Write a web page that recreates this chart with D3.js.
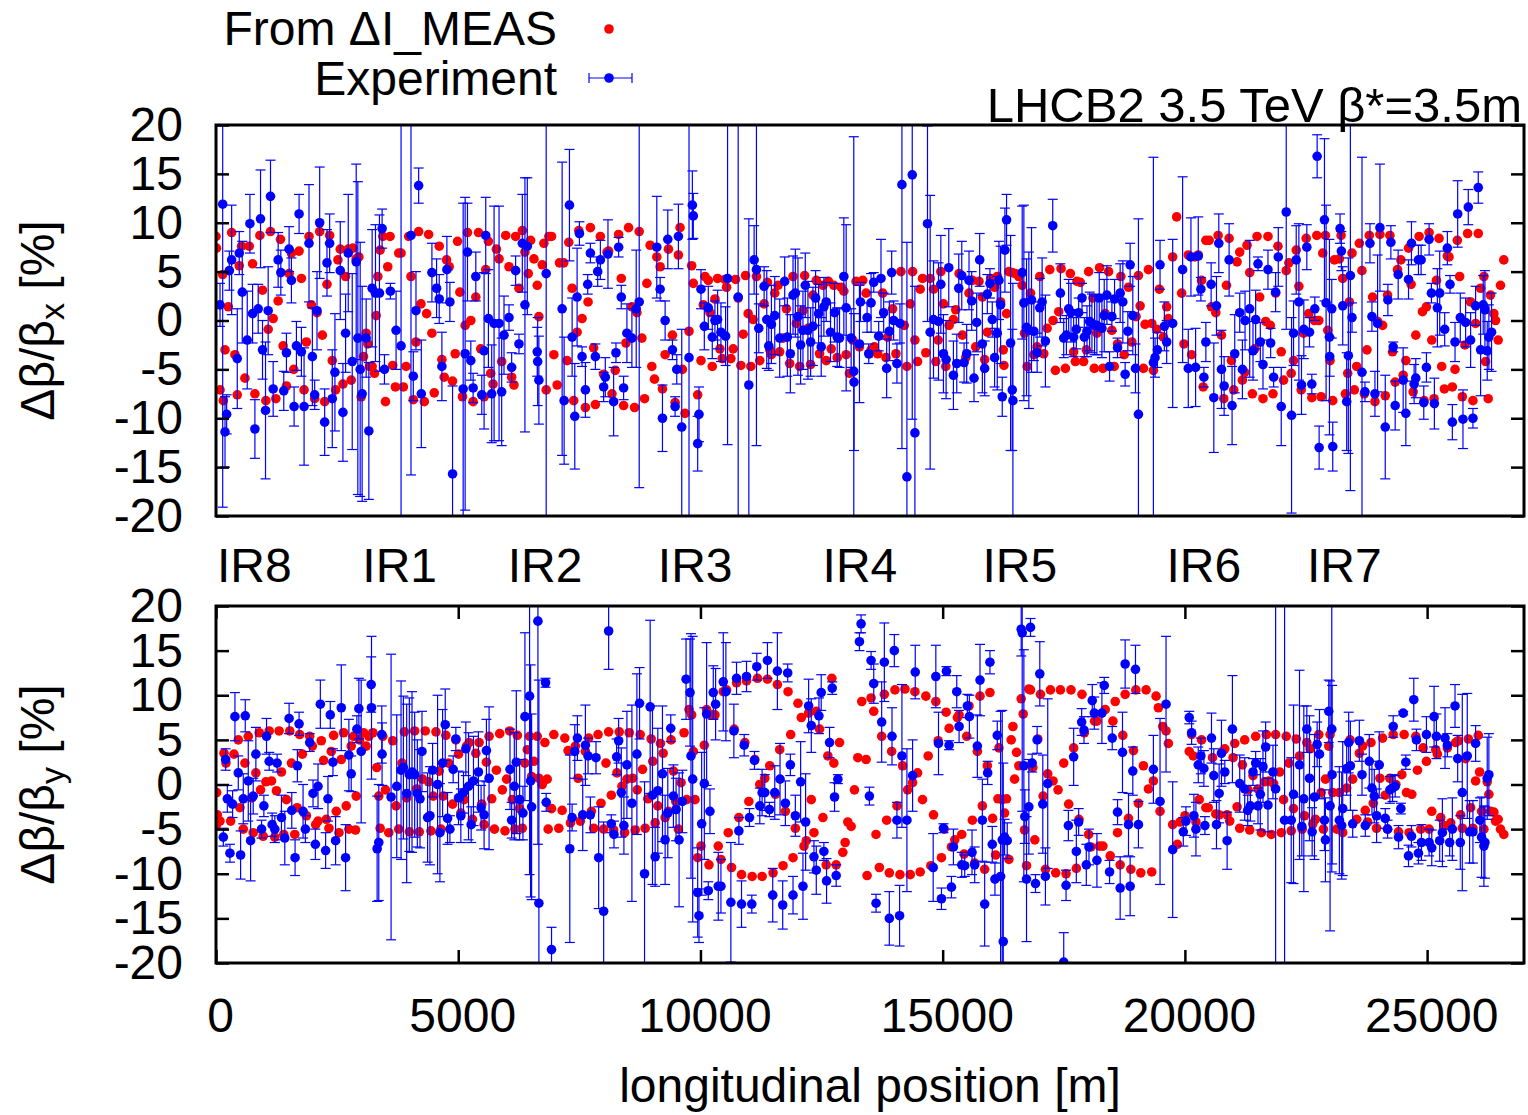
<!DOCTYPE html>
<html>
<head>
<meta charset="utf-8">
<script src="https://cdn.jsdelivr.net/npm/d3@7"></script>
<style>
body { margin: 0; background: #fff; }
text { font-family: "Liberation Sans", Arial, Helvetica, sans-serif; }
</style>
</head>
<body>
<div id="chart"></div>
<script>
var xTicks = [0, 5000, 10000, 15000, 20000, 25000];
var yTicks = [-20, -15, -10, -5, 0, 5, 10, 15, 20];
var irNames = ["IR8", "IR1", "IR2", "IR3", "IR4", "IR5", "IR6", "IR7"];
var irPos = [0, 3000, 6000, 9100, 12500, 15800, 19600, 22500];

// horizontal plane, model from ΔI_MEAS: [s (m), Δβ/β (%)]
var modelX = [[0,8.6],[10,7.4],[83,-7.1],[138,4.7],[151,-8.2],[186,-3.0],[254,1.4],[323,9.0],[391,-3.5],[439,-7.6],[480,5.6],[528,7.6],[597,-5.9],[686,7.6],[755,5.8],[803,-7.5],[906,8.7],[960,3.1],[1029,-8.2],[1077,-0.9],[1125,9.1],[1180,0.2],[1235,-8.0],[1283,2.0],[1331,8.3],[1386,-2.6],[1454,-6.7],[1509,4.8],[1557,6.9],[1605,-5.0],[1715,7.1],[1763,4.3],[1818,-7.1],[1866,-2.2],[1920,8.6],[1968,1.6],[2037,-8.0],[2085,0.8],[2140,9.1],[2195,-1.5],[2243,-8.3],[2291,3.7],[2346,8.7],[2400,-4.1],[2469,-7.1],[2517,6.2],[2565,7.3],[2620,-6.5],[2675,4.5],[2730,7.3],[2791,-6.1],[2826,7.4],[2894,6.3],[2949,6.5],[2997,-7.8],[3045,-3.7],[3100,-1.3],[3134,-2.4],[3168,-4.7],[3223,-4.7],[3271,-5.4],[3306,0.5],[3340,4.5],[3388,7.2],[3443,8.6],[3498,-8.3],[3545,5.5],[3593,8.6],[3648,-4.6],[3703,-6.8],[3772,6.9],[3820,6.9],[3868,-6.8],[3923,-4.7],[3978,8.6],[4025,4.5],[4073,-8.1],[4128,-2.2],[4183,9.1],[4231,1.7],[4300,-8.3],[4348,0.7],[4389,8.8],[4457,-1.3],[4505,-7.4],[4608,7.6],[4663,-4.0],[4711,-5.8],[4759,6.2],[4814,5.5],[4883,-6.2],[4938,-3.4],[4986,8.1],[5034,2.9],[5088,-7.8],[5143,-0.5],[5191,9.0],[5260,0.0],[5308,-8.3],[5363,2.4],[5418,9.0],[5465,-2.9],[5534,-7.8],[5568,5.2],[5623,8.1],[5671,-5.4],[5719,-6.5],[5788,7.3],[5843,6.3],[5897,-4.2],[5980,8.7],[6048,5.5],[6103,-5.8],[6151,-6.6],[6185,8.6],[6254,3.3],[6323,9.2],[6377,7.0],[6446,4.8],[6494,8.2],[6563,6.3],[6631,3.6],[6665,0.4],[6734,5.7],[6768,7.9],[6816,-7.1],[6871,8.6],
[6926,8.6],[6974,-3.5],[7042,-6.6],[7090,5.9],[7179,5.9],[7248,-4.1],[7282,8.0],[7351,3.3],[7385,-8.2],[7454,-1.2],[7488,9.2],[7556,0.2],[7625,-8.9],[7680,1.9],[7728,9.5],[7796,-2.8],[7831,-8.6],[7934,8.6],[8002,-5.5],[8071,7.0],[8105,7.1],[8174,-7.5],[8242,-5.1],[8311,8.8],[8366,4.3],[8414,-8.7],[8462,-2.3],[8516,9.5],[8585,1.4],[8640,-8.9],[8688,0.8],[8736,9.1],[8791,-1.8],[8846,-8.0],[8894,3.8],[8962,7.7],[8996,-4.7],[9051,-6.0],[9099,6.5],[9168,5.5],[9216,-7.0],[9271,-3.5],[9339,7.3],[9422,-1.5],[9477,-8.4],[9545,6.7],[9579,9.5],[9627,-5.0],[9682,-9.5],[9764,-1.1],[9819,5.6],[9853,3.8],[9943,-7.6],[10011,-4.1],[10059,1.6],[10094,4.5],[10162,4.1],[10196,0.8],[10244,-4.7],[10299,2.2],[10354,4.3],[10402,-2.9],[10450,-3.9],[10505,4.2],[10539,3.4],[10628,-3.9],[10676,-2.9],[10724,4.2],[10779,2.3],[10834,-4.6],[10882,-1.4],[10930,4.6],[10985,0.7],[11040,-4.7],[11088,0.1],[11156,4.5],[11225,-4.1],[11314,1.7],[11383,3.9],[11431,-3.0],[11465,-3.5],[11534,2.8],[11602,3.6],[11636,-3.2],[11705,-1.8],[11774,1.2],[11842,-4.4],[11911,4.5],[11979,-0.3],[12048,-4.7],[12116,1.0],[12151,4.6],[12219,-0.8],[12274,-4.5],[12322,2.6],[12391,4.1],[12459,-3.4],[12528,3.6],[12596,-4.1],[12644,4.0],[12699,-2.9],[12754,3.6],[12823,-3.8],[12905,3.4],[12960,3.0],[13008,-3.5],[13076,-5.4],[13145,-2.0],[13213,4.0],[13282,-2.7],[13351,4.1],[13419,2.8],[13488,-3.4],
[13522,-3.0],[13590,-2.7],[13659,-3.4],[13762,2.8],[13830,-3.8],[13864,-1.7],[13967,1.2],[14036,-3.4],[14139,5.0],[14207,-0.5],[14262,-4.7],[14331,1.7],[14379,5.0],[14427,-2.0],[14482,-4.2],[14536,3.2],[14584,4.3],[14653,-3.3],[14742,4.3],[14811,3.2],[14859,-4.2],[14907,-2.0],[14962,5.0],[15016,1.7],[15064,-4.7],[15133,-0.5],[15222,0.1],[15270,1.1],[15339,4.8],[15407,-1.5],[15476,-3.8],[15544,2.8],[15613,4.1],[15682,-2.7],[15750,4.0],[15819,2.4],[15867,-4.0],[15922,-1.2],[15990,4.3],[16072,3.4],[16127,4.5],[16196,1.9],[16251,-3.0],[16265,-4.6],[16319,0.7],[16367,5.0],[16436,4.9],[16504,4.8],[16573,4.5],[16641,3.6],[16690,-1.3],[16744,-4.7],[16813,2.8],[16882,-3.5],[16950,-2.7],[17005,4.5],[17087,-3.4],[17156,-0.8],[17211,5.2],[17279,0.0],[17327,-5.1],[17396,0.9],[17444,5.3],[17533,-4.9],[17636,4.8],[17704,-3.2],[17739,-4.2],[17773,4.0],[17841,3.9],[17910,-4.2],[17965,-3.0],[18013,5.0],[18102,2.3],[18130,-4.9],[18184,-1.3],[18239,5.4],[18308,-4.9],[18356,0.7],[18425,5.0],[18493,-1.0],[18541,-4.7],[18610,-2.4],[18678,4.5],[18747,-3.5],[18836,3.4],[18905,-2.2],[18993,0.4],[19041,4.6],[19076,1.5],[19144,-4.9],[19178,-0.4],[19247,5.2],[19316,-0.3],[19350,-5.1],[19419,-0.9],[19473,3.2],[19555,-1.7],[19624,1.4],[19659,0.2],[19748,6.5],[19830,10.6],[19933,2.8],[19981,-2.4],[20070,6.7],[20139,-3.5],[20207,6.5],[20276,6.7],[20344,4.1],[20378,-6.8],[20433,8.2],
[20501,8.2],[20549,1.4],[20638,0.8],[20686,8.7],[20755,-1.5],[20803,-8.0],[20858,3.6],[20913,8.4],[20961,-4.1],[21009,-7.1],[21077,6.0],[21132,7.0],[21187,-6.1],[21235,-5.3],[21283,7.7],[21338,4.9],[21393,-7.5],[21441,-2.9],[21489,8.6],[21544,2.4],[21612,-8.0],[21667,-0.1],[21715,8.6],[21763,-0.5],[21818,-7.5],[21873,2.8],[21921,7.6],[21989,-3.2],[22037,-6.1],[22092,5.1],[22147,5.9],[22195,-5.4],[22243,-4.1],[22298,7.2],[22353,3.5],[22401,-7.1],[22449,-1.3],[22504,8.4],[22558,0.7],[22620,-7.9],[22675,0.0],[22723,8.7],[22764,0.0],[22812,-7.8],[22846,6.9],[22901,8.7],[22949,-1.0],[22997,-4.1],[23052,-8.2],[23086,6.2],[23189,6.3],[23224,8.7],[23258,4.3],[23313,-7.5],[23361,-5.4],[23395,1.9],[23450,6.9],[23498,-7.1],[23546,-4.7],[23601,7.9],[23655,5.1],[23704,-7.5],[23758,-3.0],[23806,8.7],[23875,2.4],[23923,-8.3],[23978,-0.1],[24026,8.8],[24081,-0.5],[24136,-7.7],[24184,2.6],[24232,8.7],[24286,-3.2],[24341,-6.3],[24389,5.2],[24458,6.2],[24506,-5.6],[24561,-4.1],[24616,7.4],[24670,3.7],[24712,-7.3],[24766,-1.5],[24835,8.6],[24904,0.9],[24938,-8.2],[24986,1.4],[25041,9.0],[25096,-2.0],[25144,-8.0],[25192,4.1],[25246,8.4],[25301,-4.7],[25356,-7.0],[25418,6.6],[25452,6.5],[25521,-6.8],[25576,-5.0],[25624,8.2],[25671,4.5],[25726,-7.8],[25781,-2.5],[25836,8.9],[25898,1.9],[25946,-8.2],[26001,-0.3],[26056,8.9],[26104,3.3],[26172,4.5],[26206,-4.2],[26261,-8.0],[26309,2.6],[26378,0.7],[26412,0.0],[26467,-2.0],[26515,3.6],[26583,6.2]];

// horizontal plane, measurement: [s (m), Δβ/β (%), error (%)]
var measX = [[138,11.9,31],[83,1.6,2.2],[186,-11.4,3.6],[220,-9.6,2],[275,5.1,2],[323,6.2,5.6],[439,-3.9,5.1],[480,6.9,2.2],[542,2.9,5.2],[645,-2.0,5],[700,9.9,3],[755,0.7,3],[803,-11.1,3],[871,1.2,2.5],[919,10.4,5],[960,-3.0,3],[1022,-9.2,7],[1077,1.0,4.5],[1125,12.7,3.7],[1180,-7.0,2.8],[1283,6.2,2.8],[1338,4.9,2.3],[1399,-7.2,2],[1454,-3.3,2],[1509,7.3,2.3],[1557,4.1,2.3],[1612,-8.8,2],[1660,-2.6,2.5],[1715,10.9,2],[1763,-3.2,2.5],[1818,-8.8,6],[1920,7.9,6],[1989,-3.7,5],[2037,-7.6,1.5],[2085,1.0,4],[2140,10.0,5.7],[2243,-10.4,3.4],[2291,5.9,3.4],[2346,7.9,3],[2400,-8.0,5],[2455,-5.3,6],[2565,5.1,5],[2620,-9.4,5],[2675,-1.3,4],[2730,6.9,6],[2812,-4.2,9],[2894,6.0,10],[2928,-1.8,16],[2976,-5.0,13],[3017,-7.5,11],[3100,-1.8,4],[3155,-11.3,7],[3223,3.3,6],[3292,2.8,7],[3374,2.8,8],[3429,9.4,2],[3477,-5.0,1.5],[3600,3.0,0.8],[3717,-1.0,4],[3820,-2.6,25],[4025,8.7,24.5],[4073,-5.7,2.5],[4128,1.0,4],[4183,13.8,1.8],[4238,-7.5,5.5],[4457,4.9,3],[4553,3.3,3],[4608,2.2,2.5],[4663,-4.7,3.5],[4766,5.2,3.4],[4828,1.9,2],[4883,-15.7,9],[5102,-7.0,19],[5143,-3.4,16],[5191,7.0,5],[5260,-4.1,2],[5308,-6.9,1.5],[5363,4.5,2.5],[5486,-7.6,2],[5534,-3.1,8],[5568,8.7,3.9],[5623,0.2,5],[5691,-7.5,5],[5740,-0.3,12],[5843,-0.3,12],[5897,-7.3,5.5],[5945,-1.5,4],[6048,0.3,1.3],[6103,-4.8,1.5],[6185,5.1,1.5],[6254,-2.4,1.0],[6323,7.9,5],[6377,1.6,13],[6426,7.6,7],[6631,-3.2,2.5],[6640,-4.2,4.5],[6665,-6.1,4.5],[6816,4.8,25],
[7145,1.2,15],[7186,-8.2,6.5],[7296,11.8,5.7],[7351,-1.7,4],[7406,-9.8,5.4],[7454,2.4,5],[7502,8.9,1.2],[7556,-3.7,1],[7625,-7.1,2.8],[7673,3.7,1],[7728,6.9,1],[7831,-3.7,1.3],[7879,5.0,1.5],[7934,6.2,2],[8002,-6.8,1.5],[8036,-5.8,2],[8091,6.8,3.5],[8208,-8.3,3.5],[8256,-3.3,1],[8311,7.5,1],[8366,2.4,1.2],[8414,-6.9,1.2],[8482,-1.3,3],[8585,-1.8,3],[8674,1.2,6],[8736,1.9,19],[9099,7.5,5.2],[9168,3.2,1.2],[9216,-10.0,3.4],[9271,0.0,2],[9326,8.3,3],[9422,-3.0,1],[9477,-8.8,1],[9511,-5.0,1.5],[9545,8.6,3.3],[9614,-10.9,10],[9764,-3.8,25],[9833,11.8,3.5],[9853,10.7,2.3],[9943,-12.6,2.8],[9970,-9.6,2.8],[10011,3.2,2],[10080,-0.6,2.4],[10162,1.3,2.2],[10244,-1.7,2.2],[10299,0.0,2],[10354,0.1,3],[10423,-1.2,3],[10519,-1.6,3],[10560,4.3,17],[10779,2.4,25],[10999,-6.6,17],[11108,6.2,3.5],[11156,5.2,18],[11204,-0.8,2.5],[11314,3.5,2],[11369,0.1,5],[11410,-2.6,2.5],[11465,-0.4,4],[11534,0.5,4],[11636,-1.8,4],[11739,4.0,2.5],[11794,-1.7,4],[11856,-3.4,4],[11911,2.6,4],[11959,2.8,4.5],[12013,0.4,6],[12068,-2.5,4],[12116,-1.0,4],[12164,3.6,3.3],[12219,-1.0,5],[12274,-2.2,3.5],[12322,-0.6,4],[12377,2.3,2.8],[12439,0.7,3],[12493,-2.7,3],[12548,1.4,3],[12596,1.9,2],[12685,-1.2,3],[12768,0.8,3],[12823,-1.7,3],[12871,-1.8,3],[12960,4.5,6],[13008,1.3,8.5],[13111,-1.8,3],[13165,-5.2,24],[13170,-6.3,7],[13282,-2.4,6],[13303,1.9,2],[13440,0.3,1.5],[13474,-3.4,1],[13522,1.8,3],[13577,3.9,1],
[13679,-1.6,1.5],[13727,4.3,4],[13782,0.8,2],[13844,-4.9,3],[13899,-1.1,3],[13947,4.9,2.2],[13988,0.0,2],[14056,-4.4,2],[14118,-0.3,2],[14159,13.9,27],[14262,-16.0,24],[14372,14.9,25],[14427,-11.5,15],[14687,9.9,10],[14742,-1.2,14],[14811,0.1,6],[14914,-0.1,6],[14962,3.7,5],[15016,-3.4,4],[15071,-4.0,4],[15126,5.4,4],[15222,-5.6,3.5],[15291,-4.4,3],[15332,3.3,3.5],[15394,4.6,3.5],[15442,-4.3,2],[15496,-3.4,3],[15544,4.1,3],[15599,2.0,3],[15647,-5.9,2.4],[15702,-0.2,3],[15764,6.2,2.7],[15819,-2.4,5],[15867,-4.9,2.8],[15922,2.7,2],[15976,3.8,1.5],[16024,0.1,1.8],[16072,-3.8,3],[16127,-1.3,5.8],[16162,4.1,4],[16196,1.6,6],[16230,-7.8,2],[16285,7.2,4.3],[16319,10.3,2.6],[16402,-2.3,11],[16436,-7.1,6.2],[16450,-8.2,12],[16642,4.9,6.8],[16676,1.8,10],[16731,-0.7,7],[16779,-1.0,8],[16834,2.1,7.4],[16882,-1.1,3],[16950,-3.3,2],[17005,1.3,3],[17053,1.9,4.5],[17121,-2.1,4.7],[17272,9.7,2.7],[17430,2.8,3],[17499,-1.8,2],[17554,-1.5,2],[17601,1.2,3],[17649,0.8,3],[17704,-1.7,2],[17759,-0.9,2],[17807,0.8,1.5],[17876,2.3,1.5],[17924,-1.7,2],[17979,-1.1,2.6],[18034,-0.1,3],[18081,-0.3,3],[18136,-0.5,3],[18184,-0.5,3],[18232,2.3,2.6],[18287,-0.8,3],[18335,0.5,3.7],[18390,2.6,3],[18445,-4.7,1.5],[18493,0.4,1.5],[18548,2.2,2],[18610,-2.8,1],[18664,2.8,3],[18719,1.9,4.2],[18767,-5.5,1.2],[18822,-1.1,2],[18870,5.7,2.2],[18925,0.5,4],[18980,-4.9,2.5],[19041,-9.6,20],[19350,-4.3,21],[19384,-3.8,2],[19432,-3.0,1.8],[19487,5.7,2.5],[19576,-0.6,2.5],[19624,-2.2,2.2],[19748,-0.3,8.6],[19953,5.2,9.5],[20070,-4.9,4],[20125,6.5,4],[20221,-4.8,4],[20276,6.6,4],[20330,3.2,1.2],[20392,-5.8,1],
[20433,-2.2,2],[20542,3.7,2.2],[20597,-7.9,5.6],[20652,1.5,3],[20700,7.9,3],[20755,-5.0,4],[20810,-6.7,3],[20913,6.2,3.7],[20974,-8.7,4],[21029,-3.4,4],[21132,0.8,2],[21187,-5.0,3],[21242,0.0,3],[21338,1.2,7],[21406,-3.1,3],[21461,0.1,3],[21509,5.8,0.7],[21557,-2.2,2],[21612,-4.5,2.5],[21715,5.2,2],[21770,-2.3,1.5],[21832,-5.8,1],[21873,2.9,2],[21928,6.5,3],[21989,-8.8,4],[22092,11.1,12],[22202,-9.7,10],[22243,-1.3,3.3],[22298,6.2,3.5],[22353,1.9,8],[22407,-6.6,3],[22455,-0.9,3],[22517,7.5,2.3],[22572,-1.2,1.5],[22620,-6.5,1],[22682,1.2,1.2],[22730,16.8,2.2],[22771,-13.0,2.2],[22881,10.3,8.3],[22915,1.8,10],[22984,-1.7,10],[22990,-3.7,2],[23032,1.2,3],[23052,-12.9,2.5],[23203,9.4,1.5],[23230,7.1,2],[23258,1.5,4],[23340,-8.3,5],[23374,-3.6,10],[23416,4.6,22],[23450,0.3,1.5],[23656,-5.3,22],[23717,-7.3,1],[23820,7.9,2],[23861,0.4,1.5],[23923,-7.5,2.3],[23978,-0.3,7],[24026,9.5,6.5],[24136,-10.9,5.3],[24190,2.1,1.6],[24252,8.0,1.7],[24300,-2.7,0.5],[24341,-8.7,2.5],[24403,4.7,2.5],[24506,-6.1,3.3],[24561,-9.5,3.3],[24616,4.2,2],[24677,7.9,2.2],[24732,-6.5,2],[24766,-5.9,2],[24821,6.2,1.5],[24876,6.2,1.5],[24931,-8.4,1.7],[24986,-4.8,1.5],[25041,8.3,1.6],[25089,2.8,1],[25150,-8.5,2.6],[25212,1.3,4],[25260,2.8,4.3],[25363,-0.9,1.7],[25418,7.4,1.7],[25473,3.7,0.9],[25521,-10.4,1.8],[25576,-2.2,2],[25631,10.9,3.4],[25685,0.3,2.5],[25740,-10.1,3],[25795,-0.2,2.5],[25850,11.6,1.8],[25898,-2.0,2.8],[25946,-10.0,1],[26001,1.5,2],[26056,13.6,1.6],[26104,-3.0,4.7],[26158,1.6,3],[26193,1.1,4],[26241,-3.1,3],[26275,-1.7,3.3],[26330,-1.2,4]];

// vertical plane, model from ΔI_MEAS: [s (m), Δβ/β (%)]
var modelY = [[5,-4.6],[14,-0.9],[28,-3.4],[83,-4.1],[165,3.5],[206,2.4],[302,-4.1],[371,3.4],[460,5.0],[494,-2.6],[563,-5.0],[597,2.4],[666,5.4],[734,-1.5],[768,-5.4],[823,1.3],[892,5.8],[919,-0.6],[974,-5.8],[1029,0.3],[1098,6.0],[1146,0.4],[1214,-5.9],[1248,-0.7],[1303,6.0],[1351,1.4],[1399,-5.6],[1454,-1.7],[1523,6.0],[1557,2.4],[1626,-5.6],[1674,-2.6],[1728,5.6],[1783,3.4],[1866,-3.5],[1934,5.4],[1989,4.3],[2058,-4.5],[2106,-4.1],[2174,4.9],[2222,2.7],[2277,-3.9],[2332,-4.9],[2380,3.7],[2428,5.5],[2483,-3.0],[2538,-5.4],[2586,2.8],[2634,5.8],[2688,-2.4],[2743,-5.0],[2791,4.3],[2839,5.4],[2880,-5.1],[2894,-1.3],[2963,5.0],[3045,5.8],[3100,4.3],[3155,5.4],[3237,5.8],[3319,1.9],[3360,-1.3],[3388,-4.9],[3443,5.4],[3498,-0.6],[3566,-5.4],[3648,4.9],[3717,-2.4],[3772,-5.0],[3840,2.4],[3888,5.9],[3936,-1.5],[3991,-5.3],[4046,1.3],[4101,6.0],[4142,-0.5],[4197,-5.3],[4265,0.6],[4320,6.0],[4389,0.3],[4437,-5.2],[4485,-1.3],[4540,5.9],[4608,1.5],[4643,-5.0],[4691,-1.3],[4745,5.5],[4800,2.4],[4883,-2.2],[4951,5.0],[5006,3.4],[5054,-3.2],[5123,-1.7],[5171,4.3],[5225,4.7],[5294,-3.9],[5363,3.5],[5431,4.7],[5486,-2.2],[5534,-4.5],[5582,2.5],[5637,5.4],[5692,-1.6],[5747,-5.0],[5788,1.6],[5856,5.7],[5911,-0.6],[5966,-5.2],[6000,0.6],[6062,6.0],[6117,-1.7],[6172,-5.0],[6220,5.5],[6268,-2.7],[6323,-4.9],[6377,2.4],[6426,3.9],[6473,5.4],[6515,0.9],[6563,2.6],[6631,5.4],[6665,0.7],[6734,0.0],[6789,4.7],[6837,0.6],[6857,-5.0],
[6926,-2.7],[6974,5.6],[7076,-4.9],[7145,-2.9],[7200,5.2],[7268,3.8],[7316,-4.3],[7419,4.3],[7474,0.7],[7522,-4.1],[7625,3.7],[7694,5.2],[7748,-3.0],[7796,-4.9],[7886,5.6],[7947,-2.1],[8002,-5.0],[8050,2.4],[8105,5.9],[8160,-1.2],[8208,-5.1],[8276,1.3],[8324,5.9],[8379,-0.2],[8434,-5.4],[8482,0.6],[8530,5.8],[8599,0.7],[8654,-5.1],[8695,-0.6],[8756,5.6],[8804,1.7],[8859,-4.9],[8914,-1.6],[8983,5.1],[9017,2.6],[9065,-4.3],[9120,-2.4],[9175,4.6],[9230,3.5],[9271,-3.7],[9339,-3.0],[9394,5.0],[9442,1.5],[9490,-1.9],[9545,-5.0],[9600,0.2],[9662,5.8],[9716,-1.7],[9764,8.4],[9819,7.8],[9853,3.7],[9888,-1.7],[9943,-8.2],[10011,-6.9],[10080,4.4],[10128,8.4],[10176,-9.0],[10231,7.8],[10299,7.8],[10368,-6.9],[10423,-8.4],[10471,10.4],[10539,10.6],[10574,-5.4],[10642,-9.3],[10697,6.2],[10745,11.4],[10793,-3.7],[10848,-10.1],[10916,4.7],[10951,11.6],[10999,-1.9],[11067,-10.3],[11122,2.8],[11177,11.9],[11225,0.0],[11273,-10.3],[11328,0.7],[11383,11.8],[11431,2.1],[11499,-9.9],[11547,-1.1],[11588,11.2],[11636,3.9],[11705,-9.1],[11753,-3.0],[11808,10.4],[11863,5.6],[11911,-8.2],[11959,-4.9],[12013,9.1],[12082,7.5],[12137,-6.9],[12185,-6.3],[12233,8.0],[12288,-1.7],[12343,-5.4],[12391,8.2],[12459,6.2],[12528,-3.7],[12596,-9.0],[12630,3.2],[12713,11.9],[12754,2.4],[12802,-9.0],[12871,4.7],[12939,-7.6],[12987,-6.5],[13042,-4.2],[13111,-4.7],[13179,-0.6],[13248,3.0],[13330,9.3],[13419,2.8],[13440,-10.2],[13577,8.2],
[13522,9.7],[13624,-5.6],[13693,-9.3],[13741,5.4],[13796,10.1],[13844,-4.0],[13899,-9.9],[13947,3.7],[14015,10.6],[14056,-2.4],[14118,-10.1],[14173,2.1],[14221,10.7],[14276,-0.6],[14331,-10.1],[14379,0.2],[14427,10.4],[14482,1.3],[14536,-9.8],[14584,-1.7],[14653,9.9],[14701,3.2],[14756,-9.1],[14811,-3.4],[14859,9.3],[14907,4.9],[14975,-8.2],[15030,-5.0],[15071,8.1],[15133,6.3],[15181,-7.0],[15250,-6.2],[15304,7.5],[15339,7.8],[15394,-5.6],[15442,-7.8],[15496,5.4],[15544,8.8],[15613,-4.0],[15661,-8.8],[15716,3.7],[15771,9.9],[15819,-2.4],[15867,-9.5],[15922,2.1],[15976,10.3],[16031,-3.8],[16093,-7.9],[16141,-1.6],[16162,4.1],[16230,-1.7],[16278,-3.2],[16319,-1.6],[16367,-8.4],[16415,5.0],[16450,6.5],[16484,0.6],[16525,3.6],[16573,2.1],[16621,9.6],[16662,7.9],[16690,-5.1],[16731,-9.1],[16779,10.7],[16813,10.6],[16861,1.9],[16902,-6.2],[16964,5.1],[17019,10.1],[17074,-1.3],[17121,-9.5],[17169,1.2],[17224,10.6],[17279,0.4],[17334,-9.9],[17382,-0.6],[17430,10.6],[17499,2.4],[17547,-10.0],[17601,-2.2],[17649,10.6],[17704,4.1],[17759,-9.4],[17814,-3.9],[17876,10.1],[17924,5.8],[18013,-5.6],[18061,-7.0],[18136,7.1],[18184,7.1],[18239,-6.9],[18308,-6.9],[18356,8.4],[18459,-8.0],[18514,7.1],[18562,9.3],[18610,-5.4],[18664,-9.0],[18719,5.5],[18767,10.1],[18836,-3.8],[18884,-9.5],[18939,3.8],[18987,10.6],[19041,-2.1],[19090,-9.9],[19144,2.1],[19199,10.6],[19247,-0.5],[19316,-9.8],[19350,0.4],[19405,9.9],[19453,8.6],[19487,-3.0],[19542,6.5],[19611,6.0],[19659,4.6],[19748,-4.5],[19844,-6.7],[19899,-4.2],[20002,-3.5],[20090,3.7],[20139,5.6],[20173,3.2],[20228,-4.2],[20296,-1.7],[20344,5.0],[20433,-2.6],
[20481,-2.6],[20570,3.0],[20638,-3.3],[20707,-3.4],[20776,3.7],[20824,4.0],[20872,-3.4],[20926,-4.1],[20995,3.0],[21029,4.6],[21077,-2.5],[21132,-4.9],[21187,2.2],[21235,5.0],[21304,-0.6],[21338,-5.1],[21406,1.0],[21461,5.4],[21509,-0.5],[21578,-5.4],[21646,0.3],[21681,5.6],[21736,0.4],[21784,-5.6],[21832,0.1],[21873,5.6],[21955,1.4],[21989,-5.4],[22037,-1.7],[22092,5.4],[22147,2.4],[22195,-5.2],[22243,-2.7],[22298,5.1],[22366,3.2],[22421,-5.0],[22469,-3.5],[22517,4.7],[22586,4.0],[22641,-4.4],[22696,-3.9],[22764,5.6],[22812,-0.9],[22860,-5.0],[22901,0.6],[22970,4.3],[22997,5.6],[23052,-0.9],[23134,-5.0],[23189,-0.9],[23258,-5.4],[23340,-0.4],[23409,5.0],[23464,0.6],[23546,-3.9],[23601,3.5],[23669,4.3],[23724,-2.9],[23772,-4.2],[23841,4.7],[23889,-2.1],[23957,-4.9],[24026,0.7],[24081,5.2],[24136,-1.2],[24184,-5.0],[24232,0.7],[24300,5.6],[24355,0.0],[24410,-5.3],[24478,1.1],[24526,5.6],[24574,-0.9],[24629,-5.4],[24684,-1.1],[24766,5.4],[24801,1.6],[24869,-5.0],[24917,4.1],[24986,2.6],[25041,-5.0],[25096,-3.0],[25178,3.9],[25212,3.4],[25281,-3.7],[25349,-4.6],[25418,4.1],[25487,-4.3],[25589,4.7],[25644,4.9],[25692,-3.4],[25726,-4.9],[25795,2.9],[25850,5.1],[25898,-2.6],[25946,-4.9],[26001,0.4],[26056,5.5],[26083,1.4],[26124,-3.0],[26172,-5.0],[26241,0.3],[26275,-1.1],[26309,-3.0],[26378,-3.1],[26412,-4.1],[26467,-3.9],[26515,-5.0],[26583,-5.6]];

// vertical plane, measurement: [s (m), Δβ/β (%), error (%)]
var measY = [[151,-5.9,1],[199,2.8,1.2],[234,-1.6,1.5],[288,-7.7,1],[343,-2.2,1.5],[391,7.6,2.7],[460,1.3,1.9],[508,-7.9,2.7],[563,-1.6,2.8],[604,7.7,1.8],[666,0.4,4.5],[714,-6.3,4.5],[768,-1.3,2],[823,3.4,3],[940,-5.0,1],[988,-2.4,1.2],[1043,5.4,2],[1098,2.6,1],[1159,-4.5,1.3],[1214,-5.0,1.5],[1262,2.4,1],[1351,-3.7,2.5],[1420,-6.0,3],[1509,7.4,1.7],[1564,-2.9,2],[1632,-8.2,2],[1680,2.1,1.8],[1715,6.8,1.3],[1797,-3.0,3],[1845,-5.0,1.5],[1934,4.7,1],[2003,-1.0,1.5],[2051,-6.7,1.7],[2106,-0.2,2.5],[2154,9.0,2.7],[2263,-7.4,2],[2311,-1.6,2.5],[2359,7.8,1.5],[2414,2.5,1.5],[2469,-6.3,2.7],[2586,8.6,4.8],[2675,-8.2,3.7],[2743,3.3,4],[2791,1.2,2],[2908,6.2,1.5],[2949,8.5,3.4],[2997,3.7,8],[3203,11.2,3.1],[3210,8.6,8],[3326,-7.2,5.9],[3360,-6.5,6.5],[3422,5.6,3.2],[3428,3.4,3.5],[3614,-1.4,16],[3731,-0.2,8],[3820,1.6,10],[3868,1.9,8],[3936,-1.0,10],[3991,1.1,8.6],[4046,1.4,9],[4101,1.1,7],[4156,-1.0,6],[4211,-1.6,5.5],[4252,3.7,4.5],[4368,-3.7,5],[4416,-3.5,5.5],[4471,1.6,3],[4574,0.0,10],[4622,-5.4,5.5],[4677,2.4,6],[4732,6.7,4],[4780,-3.8,2.9],[4828,-5.0,1.5],[4896,1.7,1.5],[4951,5.1,1.3],[5006,-1.5,3],[5054,-3.5,3],[5109,-0.9,2.3],[5157,4.0,3],[5212,-0.2,6],[5267,-4.5,2],[5315,0.4,5],[5417,1.4,4.5],[5472,-2.6,2.5],[5534,-3.4,3.8],[5582,3.8,3.5],[5637,0.7,8],[6069,1.7,4.5],[6103,-4.0,2],[6158,-0.2,6],[6199,2.5,8],[6268,-1.7,4.5],[6336,-3.2,3],[6377,7.6,9.4],[6473,9.9,20],[6494,0.4,13],[6515,-2.5,10.4],[6645,18.3,25],[6665,-13.3,25],[6803,11.4,0.5],[6816,-2.0,1],
[6926,-18.5,2.5],[7303,-7.2,10.5],[7351,-3.7,1.5],[7406,3.7,3],[7460,5.2,2.5],[7570,-3.4,4],[7625,4.4,4.5],[7680,3.2,2],[7728,-3.4,2],[7844,3.0,1.8],[7899,-8.2,5.7],[8002,-14.2,10],[8105,17.2,4.3],[8160,-4.4,1],[8215,-5.6,1.5],[8270,3.1,2],[8311,4.9,2.5],[8366,-0.9,5],[8420,-4.6,3.2],[8482,2.2,6],[8585,-2.1,11],[8688,3.4,9],[8743,9.1,4],[8846,-10.0,10.3],[8962,8.7,9.7],[9010,-1.2,10],[9065,-8.1,3.3],[9120,-0.7,7],[9216,1.2,7.6],[9271,-6.2,5],[9326,-3.2,5],[9387,6.3,1.5],[9442,-1.3,3.5],[9497,-2.8,3.5],[9559,-6.2,7.5],[9627,-1.9,3.5],[9703,11.8,4.5],[9785,10.3,6],[9805,3.2,13.7],[9840,0.6,16],[9943,-12.1,5],[9970,-14.7,3],[10025,-4.4,8],[10080,0.1,8.5],[10128,7.9,8],[10162,-11.9,1],[10196,-3.0,2.5],[10265,10.3,3],[10313,9.0,4],[10368,-11.4,3.8],[10423,-11.4,3],[10471,11.5,5.5],[10525,10.4,5.5],[10628,-13.2,6.7],[10690,6.0,3],[10745,11.9,1.8],[10793,-5.2,1.5],[10848,-13.4,2.6],[10903,4.4,1.2],[10951,12.1,1.7],[11012,-3.7,1],[11060,-13.4,1],[11115,2.7,1],[11163,13.2,1.5],[11225,-2.4,2],[11273,-0.9,2.6],[11328,-0.9,2],[11383,13.9,2],[11424,-2.8,0.8],[11492,-12.4,3],[11534,-0.9,3],[11588,12.7,4.3],[11643,0.6,4],[11698,-13.5,2.7],[11753,-2.1,2.5],[11801,12.5,1],[11856,2.2,1.2],[11911,-12.4,2.1],[11959,-3.5,2.3],[12068,0.3,4.5],[12116,-11.4,3.7],[12171,-4.2,5.4],[12233,8.8,3],[12288,6.6,3],[12343,-8.1,1.8],[12391,-9.6,2.7],[12446,7.7,2],[12493,10.3,2],[12548,-7.5,1],[12603,-10.8,2.5],[12665,4.7,1.7],[12720,10.8,0.7],[12768,-1.4,1.6],[12802,-10.2,1.2],[12837,0.6,0.5],[13282,16.0,1],[13316,18.0,1],[13488,-1.3,1],[13522,13.9,1],[13577,11.3,2.2],[13625,-13.3,1],
[13741,7.0,4.5],[13796,13.7,4.4],[13899,-15.0,3],[13954,5.4,3.2],[14002,15.0,1.8],[14056,-4.0,2],[14111,-14.7,3.4],[14159,3.2,8],[14262,-4.0,8],[14379,1.0,4],[14434,12.6,3],[14804,-9.3,3.8],[14859,12.1,3.5],[14914,4.6,3.5],[14975,-12.8,1.2],[15016,-4.9,0.5],[15078,12.7,0.5],[15133,4.4,0.5],[15181,-11.5,1.2],[15222,-7.0,2],[15291,10.4,1.8],[15339,6.5,1.8],[15394,-9.0,1.4],[15455,-9.1,1.2],[15510,8.8,1.3],[15551,7.6,2.4],[15606,-7.6,2.5],[15661,-9.0,2],[15716,4.3,3.5],[15771,11.7,4],[15819,-4.0,4.6],[15867,-13.4,4.7],[15929,1.3,1.3],[15976,13.7,1.3],[16024,-6.7,2],[16079,-10.6,1.8],[16127,5.5,1.6],[16196,-10.3,18.5],[16230,-6.2,14.5],[16251,-17.6,20],[16278,-5.9,2],[16333,-6.3,2],[16621,17.4,3],[16642,17.0,20],[16676,2.1,13],[16696,-3.6,3],[16731,-10.6,7],[16779,-2.5,5.3],[16813,17.6,1],[16847,2.4,1],[16916,-11.1,1],[16950,5.0,1.5],[17005,12.4,3.6],[17067,-2.2,5.5],[17121,-10.3,3.2],[17169,0.1,9.5],[17499,-19.9,3.3],[17547,-11.3,1.7],[17595,-4.6,1.7],[17704,3.1,3.2],[17759,-7.5,3.5],[17807,-4.2,1.5],[17869,7.0,1.5],[17917,6.1,1.5],[17965,-9.0,2.3],[18020,-7.0,2],[18088,9.4,1.8],[18130,8.0,1.8],[18184,-8.5,3],[18287,8.0,3.4],[18335,11.1,0.9],[18445,-9.8,1.3],[18500,5.2,1.3],[18610,-3.1,1.4],[18664,-11.6,3.5],[18712,3.6,4.5],[18767,13.5,2.7],[18836,-4.5,3.5],[18870,-11.4,3.3],[18925,1.5,2.7],[18980,12.9,2.7],[19041,-4.5,2.6],[19350,1.7,3.8],[19487,-1.9,9.3],[19611,9.0,7.6],[19748,-7.3,7.6],[19967,-5.3,1.6],[20022,-4.1,1.6],[20090,7.5,0.7],[20139,5.8,1.3],[20186,-3.5,2.4],[20228,-5.0,3],[20276,2.2,2],[20330,3.2,2],[20392,1.8,2],[20413,-4.6,1],
[20549,5.2,2.8],[20597,1.0,3],[20652,-4.5,2.7],[20707,-1.0,3.3],[20755,3.5,3.7],[20824,1.4,1.3],[20872,-6.3,3.2],[20981,6.2,6],[21132,0.1,3.2],[21235,-0.5,3.5],[21297,-2.9,1.7],[21352,-2.4,1.7],[21406,1.4,1.5],[21461,2.4,1.3],[21509,-2.4,2],[21557,-1.1,4],[21612,2.0,4],[21667,4.2,2.8],[21715,-2.3,3],[21818,1.4,3],[21873,-0.5,25],[22058,-4.0,24],[22195,-4.0,7],[22243,-1.1,10],[22366,2.2,10.6],[22414,-4.7,3.3],[22455,-1.6,10.4],[22517,6.2,2.6],[22572,0.7,7],[22627,-5.3,2.7],[22675,-1.4,7],[22730,4.5,2.5],[22778,3.4,5],[22881,-4.0,3.4],[22901,-6.2,4.7],[22970,8.2,3.5],[22997,-2.4,14],[23032,6.2,16],[23038,1.1,10],[23189,-4.0,6],[23237,-4.6,6],[23258,-2.7,7.5],[23340,1.8,3],[23381,4.7,3.4],[23416,2.1,5],[23464,-4.4,1.5],[23601,4.9,2.3],[23656,1.1,2.3],[23724,-4.6,1.2],[23806,2.6,3],[23861,-0.4,3],[23909,-1.3,3],[23957,-3.5,3],[24012,2.2,3.7],[24136,-3.8,1.1],[24184,-5.0,1],[24232,-0.6,1.5],[24286,-0.4,1.5],[24300,6.5,1.2],[24341,-0.2,1.2],[24410,-5.9,1.3],[24458,-2.7,0.6],[24506,8.0,0.2],[24561,2.5,0.8],[24616,-8.0,1.2],[24677,-5.8,1.2],[24725,9.5,2.4],[24780,5.0,1.2],[24821,-7.7,1.2],[24883,-6.5,2],[24986,5.6,2],[25041,-6.5,1.5],[25096,-7.1,2],[25144,7.6,3.4],[25192,5.4,2.5],[25260,-6.3,2.3],[25315,-5.4,3.8],[25370,5.2,3.4],[25418,4.4,1.3],[25466,-6.5,1.5],[25521,-5.0,3.5],[25576,8.8,2.4],[25631,2.9,2.6],[25685,-6.5,3],[25726,-0.9,11],[25829,3.2,7],[25877,-5.3,3.5],[25946,-5.3,3.5],[26001,4.6,2],[26090,-4.0,2.5],[26124,-5.9,4.5],[26172,-6.9,4.5],[26193,-6.5,4],[26241,0.7,4.6],[26275,1.1,4.6]];

var svgWidth = 1528;
var svgHeight = 1115;
var plotLeft = 216;
var plotRight = 1524;
var fontSize = 48;

var svg = d3.select("#chart")
  .append("svg")
  .attr("width", svgWidth)
  .attr("height", svgHeight);

svg.append("rect")
  .attr("width", svgWidth)
  .attr("height", svgHeight)
  .attr("fill", "#fff");

var xScale = d3.scaleLinear()
  .domain([0, 27000])
  .range([plotLeft, plotRight]);

// plain hyphen for negative numbers, like the original
var plainFormat = d => String(d);

function drawPanel(top, bottom, model, meas, sub, id, withXAxis) {
  var yScale = d3.scaleLinear().domain([-20, 20]).range([bottom, top]);

  svg.append("clipPath").attr("id", id)
    .append("rect")
    .attr("x", plotLeft).attr("y", top)
    .attr("width", plotRight - plotLeft).attr("height", bottom - top);

  var g = svg.append("g").attr("clip-path", "url(#" + id + ")");

  // model points
  g.selectAll("circle.model")
    .data(model)
    .enter()
    .append("circle")
    .attr("class", "model")
    .attr("cx", d => xScale(d[0]))
    .attr("cy", d => yScale(d[1]))
    .attr("r", 4.8)
    .attr("fill", "#ff0000");

  // measured error bars
  var bars = g.selectAll("g.bar")
    .data(meas)
    .enter()
    .append("g")
    .attr("class", "bar")
    .attr("stroke", "#0000ff")
    .attr("stroke-width", 1.2);
  bars.append("line")
    .attr("x1", d => xScale(d[0])).attr("x2", d => xScale(d[0]))
    .attr("y1", d => yScale(d[1] - d[2])).attr("y2", d => yScale(d[1] + d[2]));
  bars.append("line")
    .attr("x1", d => xScale(d[0]) - 5).attr("x2", d => xScale(d[0]) + 5)
    .attr("y1", d => yScale(d[1] - d[2])).attr("y2", d => yScale(d[1] - d[2]));
  bars.append("line")
    .attr("x1", d => xScale(d[0]) - 5).attr("x2", d => xScale(d[0]) + 5)
    .attr("y1", d => yScale(d[1] + d[2])).attr("y2", d => yScale(d[1] + d[2]));

  g.selectAll("circle.meas")
    .data(meas)
    .enter()
    .append("circle")
    .attr("class", "meas")
    .attr("cx", d => xScale(d[0]))
    .attr("cy", d => yScale(d[1]))
    .attr("r", 4.8)
    .attr("fill", "#0000ff");

  // axes, ticks pointing inwards
  var yLeft = svg.append("g")
    .attr("transform", `translate(${plotLeft},0)`)
    .call(d3.axisLeft(yScale).tickValues(yTicks).tickSize(-13).tickPadding(33).tickFormat(plainFormat));
  var yRight = svg.append("g")
    .attr("transform", `translate(${plotRight},0)`)
    .call(d3.axisRight(yScale).tickValues(yTicks).tickSize(-13).tickFormat(""));
  var axes = [yLeft, yRight];

  if (withXAxis) {
    var xb = svg.append("g")
      .attr("transform", `translate(0,${bottom})`)
      .call(d3.axisBottom(xScale).tickValues(xTicks).tickSize(-13).tickPadding(35).tickFormat(plainFormat));
    xb.selectAll(".tick text").attr("dx", 4);
    axes.push(xb);
    axes.push(svg.append("g")
      .attr("transform", `translate(0,${top})`)
      .call(d3.axisTop(xScale).tickValues(xTicks).tickSize(-13).tickFormat("")));
  }
  axes.forEach(function(a) {
    a.select(".domain").remove();
    a.selectAll(".tick line").attr("stroke", "#000").attr("stroke-width", 2.5);
    a.selectAll(".tick text")
      .attr("fill", "#000")
      .attr("font-size", fontSize)
      .attr("font-family", '"Liberation Sans", Arial, Helvetica, sans-serif');
  });

  svg.append("rect")
    .attr("x", plotLeft).attr("y", top)
    .attr("width", plotRight - plotLeft).attr("height", bottom - top)
    .attr("fill", "none")
    .attr("stroke", "#000")
    .attr("stroke-width", 3);

  // y axis title
  var label = svg.append("text")
    .attr("transform", `translate(54,${(top + bottom) / 2}) rotate(-90)`)
    .attr("text-anchor", "middle")
    .attr("font-size", fontSize)
    .attr("fill", "#000");
  label.append("tspan").text("\u0394\u03b2/\u03b2");
  label.append("tspan").attr("font-size", 34).attr("dy", 10).text(sub);
  label.append("tspan").attr("dy", -10).text(" [%]");
}

drawPanel(125, 516, modelX, measX, "x", "clipTop", false);
drawPanel(606, 963, modelY, measY, "y", "clipBottom", true);

// interaction region labels between the panels
svg.selectAll("text.ir")
  .data(irNames)
  .enter()
  .append("text")
  .attr("class", "ir")
  .attr("x", (d, i) => xScale(irPos[i]) + 1)
  .attr("y", 582)
  .attr("font-size", fontSize)
  .text(d => d);

svg.append("text")
  .attr("x", (plotLeft + plotRight) / 2)
  .attr("y", 1102)
  .attr("text-anchor", "middle")
  .attr("font-size", fontSize)
  .text("longitudinal position [m]");

svg.append("text")
  .attr("x", 1522)
  .attr("y", 122)
  .attr("text-anchor", "end")
  .attr("font-size", 49)
  .text("LHCB2 3.5 TeV \u03b2*=3.5m");

// legend
svg.append("text")
  .attr("x", 557).attr("y", 45)
  .attr("text-anchor", "end")
  .attr("font-size", fontSize)
  .text("From \u0394I_MEAS");
svg.append("circle").attr("cx", 609).attr("cy", 29).attr("r", 4.8).attr("fill", "#ff0000");

svg.append("text")
  .attr("x", 557).attr("y", 95)
  .attr("text-anchor", "end")
  .attr("font-size", fontSize)
  .text("Experiment");
var key = svg.append("g").attr("stroke", "#0000ff").attr("stroke-width", 1.2);
key.append("line").attr("x1", 589).attr("x2", 632).attr("y1", 78).attr("y2", 78);
key.append("line").attr("x1", 589).attr("x2", 589).attr("y1", 73).attr("y2", 83);
key.append("line").attr("x1", 632).attr("x2", 632).attr("y1", 73).attr("y2", 83);
svg.append("circle").attr("cx", 609).attr("cy", 78).attr("r", 4.8).attr("fill", "#0000ff");
</script>
</body>
</html>
